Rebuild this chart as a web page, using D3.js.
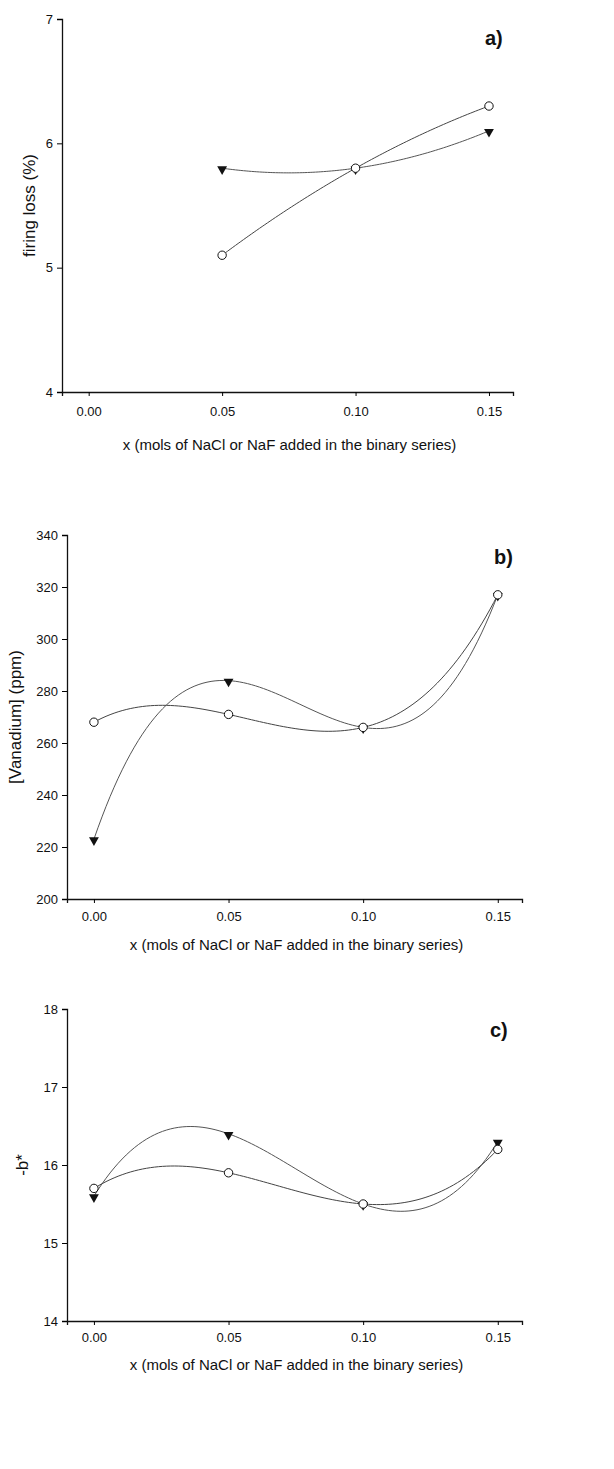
<!DOCTYPE html>
<html>
<head>
<meta charset="utf-8">
<script src="https://cdn.jsdelivr.net/npm/d3@7"></script>
<style>
  body { margin: 0; background: #fff; }
  svg { display: block; font-family: "Liberation Sans", Arial, sans-serif; }
</style>
</head>
<body>
<svg width="614" height="1469"></svg>
<script>
// x values shared by all three panels
var xVals = [0.00, 0.05, 0.10, 0.15];
var xTicks = [0.00, 0.05, 0.10, 0.15];

// a) firing loss (%)
var firingCircle = [null, 5.1, 5.8, 6.3];
var firingTriangle = [null, 5.8, 5.8, 6.1];
var firingTicks = [4, 5, 6, 7];

// b) [Vanadium] (ppm)
var vanadiumCircle = [268, 271, 266, 317];
var vanadiumTriangle = [223, 284, 266, 317];
var vanadiumTicks = [200, 220, 240, 260, 280, 300, 320, 340];

// c) -b*
var bCircle = [15.7, 15.9, 15.5, 16.2];
var bTriangle = [15.6, 16.4, 15.5, 16.3];
var bTicks = [14, 15, 16, 17, 18];

var xTitle = "x (mols of NaCl or NaF added in the binary series)";

var panels = [
  {label: "a)", ytitle: "firing loss (%)", circle: firingCircle, tri: firingTriangle, ticks: firingTicks,
   left: 62, right: 513, top: 19, bottom: 392, titleX: 29, labelX: 485, labelY: 45, pad: 11, titleDy: 58},
  {label: "b)", ytitle: "[Vanadium] (ppm)", circle: vanadiumCircle, tri: vanadiumTriangle, ticks: vanadiumTicks,
   left: 67, right: 522, top: 535, bottom: 899, titleX: 15, labelX: 494, labelY: 564, pad: 9, titleDy: 51},
  {label: "c)", ytitle: "-b*", circle: bCircle, tri: bTriangle, ticks: bTicks,
   left: 67, right: 522, top: 1009, bottom: 1321, titleX: 22, labelX: 490, labelY: 1037, pad: 8, titleDy: 49}
];

// smooth curve through all the points of a series (interpolating polynomial, as the original plot)
function polyThrough(pts) {
  return function(t) {
    var s = 0;
    pts.forEach(function(pi, i) {
      var l = 1;
      pts.forEach(function(pj, j) { if (j !== i) l *= (t - pj[0]) / (pi[0] - pj[0]); });
      s += l * pi[1];
    });
    return s;
  };
}

var svg = d3.select("svg");

panels.forEach(function(p) {
  var x = d3.scaleLinear().domain([-0.01, 0.159]).range([p.left, p.right]);
  var y = d3.scaleLinear().domain(d3.extent(p.ticks)).range([p.bottom, p.top]);
  var g = svg.append("g");

  g.append("g")
    .attr("transform", "translate(0," + p.bottom + ")")
    .call(d3.axisBottom(x).tickValues(xTicks).tickFormat(d3.format(".2f")).tickSizeOuter(0).tickSize(4).tickPadding(p.pad))
    .call(function(a) {
      a.select(".domain").attr("stroke", "#111").attr("stroke-width", 1.3);
      a.selectAll("text").attr("font-size", 13).attr("fill", "#111").attr("font-family", null);
    });

  g.append("g")
    .attr("transform", "translate(" + p.left + ",0)")
    .call(d3.axisLeft(y).tickValues(p.ticks).tickFormat(d3.format("d")).tickSizeOuter(0).tickSize(5).tickPadding(4))
    .call(function(a) {
      a.select(".domain").attr("stroke", "#111").attr("stroke-width", 1.3);
      a.selectAll("text").attr("font-size", 13).attr("fill", "#111").attr("font-family", null);
    });

  g.append("text")
    .attr("x", (p.left + p.right) / 2 + 2)
    .attr("y", p.bottom + p.titleDy)
    .attr("text-anchor", "middle")
    .attr("font-size", 15)
    .attr("fill", "#111")
    .text(xTitle);

  g.append("text")
    .attr("transform", "translate(" + p.titleX + "," + ((p.top + p.bottom) / 2) + ") rotate(-90)")
    .attr("text-anchor", "middle")
    .attr("dy", "0.35em")
    .attr("font-size", 17)
    .attr("fill", "#111")
    .text(p.ytitle);

  g.append("text")
    .attr("x", p.labelX)
    .attr("y", p.labelY)
    .attr("font-size", 20)
    .attr("font-weight", "bold")
    .attr("fill", "#111")
    .text(p.label);

  var line = d3.line()
    .x(function(d) { return x(d[0]); })
    .y(function(d) { return y(d[1]); });

  var circlePts = xVals.map(function(v, i) { return [v, p.circle[i]]; }).filter(function(d) { return d[1] != null; });
  var triPts = xVals.map(function(v, i) { return [v, p.tri[i]]; }).filter(function(d) { return d[1] != null; });

  function curvePts(pts) {
    var f = polyThrough(pts);
    var x0 = pts[0][0], x1 = pts[pts.length - 1][0];
    return d3.range(101).map(function(k) { var t = x0 + (x1 - x0) * k / 100; return [t, f(t)]; });
  }

  g.append("path").datum(curvePts(triPts)).attr("d", line)
    .attr("fill", "none").attr("stroke", "#555").attr("stroke-width", 1);
  g.append("path").datum(curvePts(circlePts)).attr("d", line)
    .attr("fill", "none").attr("stroke", "#444").attr("stroke-width", 1);

  g.selectAll(".tri").data(triPts).enter().append("path")
    .attr("d", d3.symbol().type(d3.symbolTriangle).size(42))
    .attr("transform", function(d) { return "translate(" + x(d[0]) + "," + (y(d[1]) + 1) + ") rotate(180)"; })
    .attr("fill", "#111");

  g.selectAll(".circ").data(circlePts).enter().append("circle")
    .attr("cx", function(d) { return x(d[0]); })
    .attr("cy", function(d) { return y(d[1]); })
    .attr("r", 4.2)
    .attr("fill", "#fff")
    .attr("stroke", "#111")
    .attr("stroke-width", 1);
});
</script>
</body>
</html>
